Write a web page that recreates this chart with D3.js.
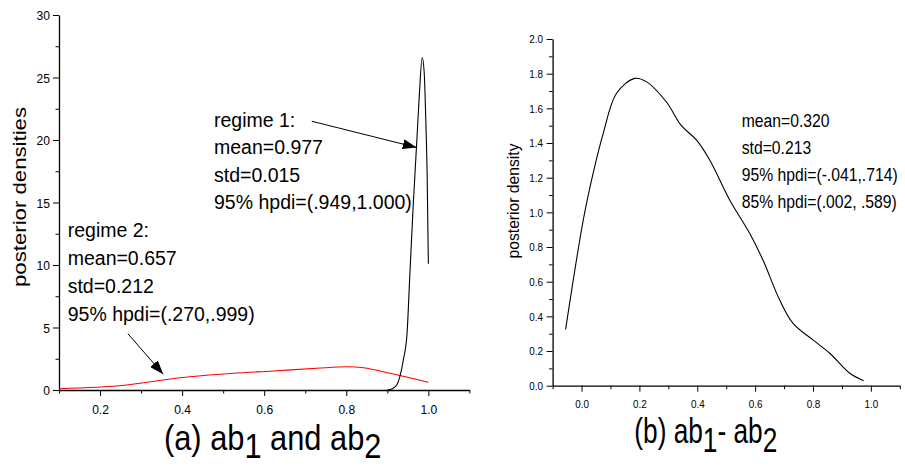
<!DOCTYPE html>
<html><head><meta charset="utf-8">
<script src="https://cdn.jsdelivr.net/npm/d3@7"></script>
<style>
body{margin:0;background:#fff}
text{font-family:"Liberation Sans",Arial,Helvetica,sans-serif;fill:#000;white-space:pre}
</style>
</head><body>
<svg id="c" width="905" height="466"></svg>
<script>
// ---------- data ----------
// Panel (a): posterior densities of ab1 (regime 1, black) and ab2 (regime 2, red)
const regime1X = [0.900, 0.912, 0.923, 0.939, 0.948, 0.955, 0.963, 0.972, 0.978, 0.985, 0.990, 0.994, 0.997, 1.000];
const regime1Y = [0.0, 0.1, 0.4, 2.4, 4.5, 9.3, 14.7, 20.0, 23.6, 26.6, 25.3, 21.3, 17.3, 10.1];
const regime2X = [0.100, 0.249, 0.297, 0.354, 0.419, 0.525, 0.622, 0.728, 0.801, 0.842, 0.907, 1.000];
const regime2Y = [0.10, 0.34, 0.54, 0.80, 1.06, 1.34, 1.52, 1.74, 1.86, 1.78, 1.34, 0.62];
// Panel (b): posterior density of ab1 - ab2
const diffX = [-0.055, 0.006, 0.040, 0.075, 0.121, 0.184, 0.224, 0.294, 0.345, 0.397, 0.443, 0.512, 0.581, 0.627, 0.685, 0.731, 0.800, 0.858, 0.927, 0.975];
const diffY = [0.325, 0.956, 1.225, 1.456, 1.687, 1.773, 1.754, 1.635, 1.500, 1.418, 1.302, 1.071, 0.879, 0.725, 0.494, 0.360, 0.264, 0.187, 0.072, 0.029];

// tick values / labels
const aXTicks = [0.2, 0.4, 0.6, 0.8, 1.0];
const aXTickLabels = ["0.2", "0.4", "0.6", "0.8", "1.0"];
const aXMinor = [0.1, 0.3, 0.5, 0.7, 0.9, 1.1];
const aYTicks = [0, 5, 10, 15, 20, 25, 30];
const aYTickLabels = ["0", "5", "10", "15", "20", "25", "30"];
const aYMinor = [2.5, 7.5, 12.5, 17.5, 22.5, 27.5];
const bXTicks = [0.0, 0.2, 0.4, 0.6, 0.8, 1.0];
const bXTickLabels = ["0.0", "0.2", "0.4", "0.6", "0.8", "1.0"];
const bXMinor = [-0.1, 0.1, 0.3, 0.5, 0.7, 0.9, 1.1];
const bYTicks = [0.0, 0.2, 0.4, 0.6, 0.8, 1.0, 1.2, 1.4, 1.6, 1.8, 2.0];
const bYTickLabels = ["0.0", "0.2", "0.4", "0.6", "0.8", "1.0", "1.2", "1.4", "1.6", "1.8", "2.0"];
const bYMinor = [0.1, 0.3, 0.5, 0.7, 0.9, 1.1, 1.3, 1.5, 1.7, 1.9];

// annotations
const regime1Text = ["regime 1:", "mean=0.977", "std=0.015", "95% hpdi=(.949,1.000)"];
const regime2Text = ["regime 2:", "mean=0.657", "std=0.212", "95% hpdi=(.270,.999)"];
const diffText = ["mean=0.320", "std=0.213", "95% hpdi=(-.041,.714)", "85% hpdi=(.002, .589)"];
// arrows in data coordinates: [fromX, fromY, toX, toY]
const arrow1 = [0.716, 21.5, 0.9716, 19.4];
const arrow2 = [0.268, 4.5, 0.354, 1.26];

// ---------- drawing ----------
const svg = d3.select("#c");
svg.append("rect").attr("width", 905).attr("height", 466).attr("fill", "#fff");

const defs = svg.append("defs");
defs.append("marker").attr("id", "arr").attr("viewBox", "0 0 14 10")
  .attr("refX", 14).attr("refY", 5).attr("markerWidth", 14).attr("markerHeight", 10)
  .attr("markerUnits", "userSpaceOnUse").attr("orient", "auto")
  .append("path").attr("d", "M0,0 L14,5 L0,10 Z").attr("fill", "#000");

function styleAxis(g, w) {
  g.select(".domain").attr("stroke", "#000").attr("stroke-width", w);
  g.selectAll(".tick line").attr("stroke", "#000").attr("stroke-width", 1);
}

function drawPanel(o) {
  const x = d3.scaleLinear().domain(o.xDom).range(o.xRange);
  const y = d3.scaleLinear().domain(o.yDom).range(o.yRange);
  const xAxisY = o.yRange[0], yAxisX = o.xRange[0];

  // minor ticks
  const gxm = svg.append("g").attr("transform", `translate(0,${xAxisY})`)
    .call(d3.axisBottom(x).tickValues(o.xMinor).tickSize(3.5).tickFormat(""));
  gxm.select(".domain").remove(); styleAxis(gxm, 1);
  const gym = svg.append("g").attr("transform", `translate(${yAxisX},0)`)
    .call(d3.axisLeft(y).tickValues(o.yMinor).tickSize(3.5).tickFormat(""));
  gym.select(".domain").remove(); styleAxis(gym, 1);

  // major axes
  const gx = svg.append("g").attr("transform", `translate(0,${xAxisY})`)
    .call(d3.axisBottom(x).tickValues(o.xTicks).tickSize(6).tickSizeOuter(0)
      .tickFormat((d, i) => o.xLabels[i]));
  styleAxis(gx, 1.3);
  gx.selectAll(".tick text").attr("y", 0).attr("dy", 0)
    .attr("font-size", o.tickFont).attr("font-family", null)
    .attr("transform", `translate(0,${o.xLabOff}) scale(${o.tickSx},1)`);
  const gy = svg.append("g").attr("transform", `translate(${yAxisX},0)`)
    .call(d3.axisLeft(y).tickValues(o.yTicks).tickSize(6).tickSizeOuter(0)
      .tickFormat((d, i) => o.yLabels[i]));
  styleAxis(gy, 1.3);
  gy.selectAll(".tick text").attr("x", 0).attr("dy", "0.35em")
    .attr("font-size", o.tickFont).attr("font-family", null)
    .attr("transform", `translate(${-o.yLabOff},0) scale(${o.tickSx},1)`);

  // y-axis title
  svg.append("text").attr("text-anchor", "middle").attr("font-size", o.yTitleFont)
    .attr("transform", `translate(${o.yTitlePos[0]},${o.yTitlePos[1]}) rotate(-90)`)
    .attr("textLength", o.yTitleLen).attr("lengthAdjust", "spacingAndGlyphs")
    .text(o.yTitle);

  return { x, y };
}

// Panel (a)
const A = drawPanel({
  xDom: [0.1, 1.1], xRange: [59, 469.4], yDom: [0, 30], yRange: [390, 15],
  xTicks: aXTicks, xLabels: aXTickLabels, xMinor: aXMinor,
  yTicks: aYTicks, yLabels: aYTickLabels, yMinor: aYMinor,
  tickFont: 13, tickSx: 0.93, xLabOff: 24, yLabOff: 9,
  yTitle: "posterior densities", yTitleFont: 18, yTitlePos: [25.5, 197], yTitleLen: 180
});
// Panel (b)
const B = drawPanel({
  xDom: [-0.1, 1.1], xRange: [552.6, 899.8], yDom: [0, 2], yRange: [385.7, 39],
  xTicks: bXTicks, xLabels: bXTickLabels, xMinor: bXMinor,
  yTicks: bYTicks, yLabels: bYTickLabels, yMinor: bYMinor,
  tickFont: 11, tickSx: 0.9, xLabOff: 22.6, yLabOff: 9.5,
  yTitle: "posterior density", yTitleFont: 16, yTitlePos: [518.5, 201], yTitleLen: 115
});

// curves
function curve(P, xs, ys, color, c) {
  const pts = xs.map((v, i) => [v, ys[i]]);
  svg.append("path").datum(pts)
    .attr("d", d3.line().x(d => P.x(d[0])).y(d => P.y(d[1])).curve(c))
    .attr("fill", "none").attr("stroke", color).attr("stroke-width", 1.1);
}
curve(A, regime2X, regime2Y, "#ff0000", d3.curveCatmullRom.alpha(0.5));
curve(A, regime1X, regime1Y, "#000", d3.curveMonotoneX);
curve(B, diffX, diffY, "#000", d3.curveCatmullRom.alpha(0.5));

// arrows
function arrow(P, a) {
  svg.append("line").attr("x1", P.x(a[0])).attr("y1", P.y(a[1]))
    .attr("x2", P.x(a[2])).attr("y2", P.y(a[3]))
    .attr("stroke", "#000").attr("stroke-width", 1).attr("marker-end", "url(#arr)");
}
arrow(A, arrow1);
arrow(A, arrow2);

// annotation blocks
function block(lines, x, y0, step, size, sx) {
  lines.forEach((s, i) => {
    svg.append("text").attr("font-size", size)
      .attr("transform", `translate(${x},${y0 + i * step}) scale(${sx},1)`).text(s);
  });
}
block(regime1Text, 214, 126.8, 27.5, 19.5, 1.0);
block(regime2Text, 67.7, 236.8, 28.2, 19.5, 1.0);
block(diffText, 741.7, 126.7, 27.2, 18.5, 0.85);

// captions with subscripts
function caption(x, y, size, sx, parts) {
  const t = svg.append("text").attr("font-size", size)
    .attr("transform", `translate(${x},${y}) scale(${sx},1)`);
  let cur = 0;
  parts.forEach(([s, sub]) => {
    const target = sub ? 8.5 : 0;
    t.append("tspan").attr("dy", target - cur).text(s);
    cur = target;
  });
}
caption(164, 449.5, 35, 0.88, [["(a) ab", false], ["1", true], [" and ab", false], ["2", true]]);
caption(634.3, 443, 35, 0.75, [["(b) ab", false], ["1", true], ["- ab", false], ["2", true]]);
</script>
</body></html>
